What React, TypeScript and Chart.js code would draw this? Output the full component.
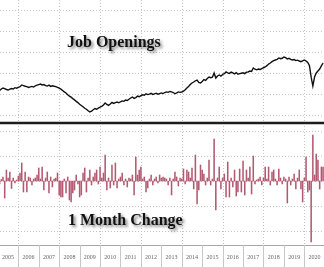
import React, { useEffect, useRef } from "react";
import { Chart, registerables } from "chart.js";

Chart.register(...registerables);

// ---- data (monthly, starting January 2005) ----
const START_YEAR = 2005;

const yearLabels = [
  "2005", "2006", "2007", "2008", "2009", "2010", "2011", "2012",
  "2013", "2014", "2015", "2016", "2017", "2018", "2019", "2020",
];

// Job openings (millions)
const openings2005 = [4.29, 4.33, 4.48, 4.57, 4.52, 4.43, 4.38, 4.46, 4.52, 4.48, 4.6, 4.55];
const openings2006 = [4.64, 4.7, 4.86, 4.8, 4.74, 4.7, 4.62, 4.68, 4.72, 4.66, 4.78, 4.84];
const openings2007 = [4.9, 4.95, 4.86, 4.9, 4.8, 4.76, 4.84, 4.72, 4.78, 4.74, 4.7, 4.62];
const openings2008 = [4.55, 4.46, 4.34, 4.2, 4.1, 3.92, 3.8, 3.7, 3.56, 3.44, 3.3, 3.18];
const openings2009 = [3.02, 2.9, 2.78, 2.64, 2.55, 2.4, 2.29, 2.36, 2.5, 2.62, 2.55, 2.66];
const openings2010 = [2.76, 2.82, 2.95, 3.14, 3.0, 2.92, 3.05, 3.2, 3.1, 3.18, 3.24, 3.16];
const openings2011 = [3.26, 3.34, 3.3, 3.43, 3.38, 3.5, 3.62, 3.71, 3.58, 3.66, 3.8, 3.74];
const openings2012 = [3.85, 3.92, 3.88, 4.02, 3.94, 3.98, 4.06, 3.96, 4.02, 4.08, 3.98, 4.04];
const openings2013 = [4.1, 4.04, 4.14, 4.2, 4.16, 4.24, 4.2, 4.14, 4.02, 4.1, 4.2, 4.16];
const openings2014 = [4.19, 4.26, 4.4, 4.57, 4.72, 4.9, 5.05, 5.14, 5.26, 5.33, 5.1, 5.05];
const openings2015 = [5.2, 5.38, 5.3, 5.48, 5.62, 5.55, 5.6, 6.0, 5.52, 5.72, 5.81, 5.7];
const openings2016 = [5.86, 5.94, 6.1, 6.02, 5.96, 6.08, 6.0, 5.92, 6.04, 5.88, 5.94, 5.98];
const openings2017 = [6.02, 5.94, 6.08, 6.1, 6.19, 6.14, 6.48, 6.36, 6.3, 6.38, 6.34, 6.42];
const openings2018 = [6.5, 6.57, 6.7, 6.85, 6.95, 7.08, 7.18, 7.24, 7.3, 7.43, 7.36, 7.4];
const openings2019 = [7.52, 7.46, 7.33, 7.4, 7.3, 7.24, 7.28, 7.18, 7.22, 7.14, 7.08, 7.16];
const openings2020 = [7.24, 7.14, 7.0, 6.7, 5.6, 4.76, 5.62, 6.0, 6.19, 6.38, 6.67, 6.95];

// 1 month change (thousands)
const change2005 = [40, -60, 30, 80, -340, 220, 60, 180, -150, 60, -40, 20];
const change2006 = [100, 160, 360, -220, 180, -220, 80, 60, -80, 40, 60, 120];
const change2007 = [260, 40, 280, -180, 60, 180, -240, 80, -120, 40, 60, 160];
const change2008 = [-280, -320, -320, 40, -240, 80, -380, -420, -240, -180, 120, -60];
const change2009 = [-320, -280, 160, 260, -220, 60, 220, -80, 80, 160, 220, -60];
const change2010 = [280, 60, 160, 520, -180, 60, -140, 320, -80, 360, -140, 40];
const change2011 = [80, 160, -80, 40, -120, 60, 40, 120, -280, 480, 120, 220];
const change2012 = [280, 40, 80, -220, -140, 40, 120, -80, 40, 80, -40, 120];
const change2013 = [60, 80, 60, 40, -80, 60, -280, 40, 180, 80, -100, 60];
const change2014 = [40, 240, -60, 220, 180, 60, 260, -160, 520, -460, -180, 320];
const change2015 = [220, 140, -80, 60, 420, -80, 40, 840, -580, 60, 280, -160];
const change2016 = [60, 140, -320, 380, -320, 60, -120, 220, -300, -220, 240, -220];
const change2017 = [400, -280, 220, 60, 280, -260, 500, -60, 20, 40, 80, -80];
const change2018 = [60, 280, 40, 280, -80, 180, 220, 40, -80, 240, 60, -60];
const change2019 = [80, 40, -440, 80, -80, 40, 140, -160, 60, 220, -160, -420];
const change2020 = [60, 480, -220, -180, -1220, 920, 120, 540, 420, -160, 280, 280];

const openings = [
  ...openings2005, ...openings2006, ...openings2007, ...openings2008,
  ...openings2009, ...openings2010, ...openings2011, ...openings2012,
  ...openings2013, ...openings2014, ...openings2015, ...openings2016,
  ...openings2017, ...openings2018, ...openings2019, ...openings2020,
];
const monthlyChange = [
  ...change2005, ...change2006, ...change2007, ...change2008,
  ...change2009, ...change2010, ...change2011, ...change2012,
  ...change2013, ...change2014, ...change2015, ...change2016,
  ...change2017, ...change2018, ...change2019, ...change2020,
];

const topGridValues = [2, 4, 6, 8, 10, 12];
const bottomGridValues = [-1000, -500, 0, 500, 1000];
const titleTop = "Job Openings";
const titleBottom = "1 Month Change";

export default function App() {
  const ref = useRef<HTMLCanvasElement | null>(null);

  useEffect(() => {
    document.body.style.margin = "0";
    const canvas = ref.current;
    if (!canvas) return;

    const toPoints = (arr: number[]) =>
      arr.map((v, i) => ({ x: START_YEAR + i / 12, y: v }));

    const decor = {
      id: "decor",
      beforeDatasetsDraw(chart: any) {
        const { ctx, chartArea: a, scales } = chart;
        const xs = scales.x;
        const yT = scales.yTop;
        const yB = scales.yBot;
        ctx.save();
        ctx.strokeStyle = "#c4c4c4";
        ctx.lineWidth = 1;
        ctx.setLineDash([1, 2]);
        const hline = (y: number) => {
          const py = Math.round(y) + 0.5;
          ctx.beginPath();
          ctx.moveTo(a.left, py);
          ctx.lineTo(a.right, py);
          ctx.stroke();
        };
        topGridValues.forEach((v) => hline(yT.getPixelForValue(v)));
        bottomGridValues.forEach((v) => hline(yB.getPixelForValue(v)));
        for (let i = 1; i < yearLabels.length; i += 2) {
          const yr = Number(yearLabels[i]);
          const px = Math.round(xs.getPixelForValue(yr)) + 0.5;
          ctx.beginPath();
          ctx.moveTo(px, a.top);
          ctx.lineTo(px, a.bottom);
          ctx.stroke();
        }
        ctx.restore();
      },
      afterDatasetsDraw(chart: any) {
        const { ctx, chartArea: a, scales } = chart;
        const xs = scales.x;
        ctx.save();
        // panel divider
        ctx.strokeStyle = "#1c1c1c";
        ctx.lineWidth = 2.5;
        ctx.beginPath();
        ctx.moveTo(0, 123);
        ctx.lineTo(chart.width, 123);
        ctx.stroke();
        // x axis line
        ctx.strokeStyle = "#a8a8a8";
        ctx.lineWidth = 1;
        ctx.beginPath();
        ctx.moveTo(0, a.bottom + 0.5);
        ctx.lineTo(chart.width, a.bottom + 0.5);
        ctx.stroke();
        // year separators and labels
        ctx.strokeStyle = "#c8c8c8";
        ctx.fillStyle = "#666";
        ctx.font = "6px 'Liberation Serif'";
        ctx.textAlign = "center";
        ctx.textBaseline = "middle";
        yearLabels.forEach((lab) => {
          const yr = Number(lab);
          const x0 = xs.getPixelForValue(yr);
          const x1 = xs.getPixelForValue(yr + 1);
          const px = Math.round(x0) + 0.5;
          ctx.beginPath();
          ctx.moveTo(px, a.bottom);
          ctx.lineTo(px, chart.height);
          ctx.stroke();
          ctx.fillText(lab, (x0 + x1) / 2, a.bottom + 12);
        });
        // titles with drop shadow
        ctx.font = "bold 16px 'Liberation Serif'";
        ctx.textAlign = "left";
        ctx.textBaseline = "alphabetic";
        ctx.fillStyle = "#111";
        ctx.shadowColor = "rgba(0,0,0,0.5)";
        ctx.shadowBlur = 3;
        ctx.shadowOffsetX = 2;
        ctx.shadowOffsetY = 2;
        ctx.fillText(titleTop, 67, 47);
        ctx.fillText(titleBottom, 68, 225);
        ctx.restore();
      },
    };

    const chart = new Chart(canvas, {
      type: "bar",
      data: {
        datasets: [
          {
            type: "line",
            label: titleTop,
            data: toPoints(openings),
            yAxisID: "yTop",
            borderColor: "#111",
            borderWidth: 1.4,
            pointRadius: 0,
            tension: 0,
          } as any,
          {
            type: "bar",
            label: titleBottom,
            data: toPoints(monthlyChange),
            yAxisID: "yBot",
            backgroundColor: "#b35a71",
            barThickness: 0.9,
          } as any,
        ],
      },
      options: {
        responsive: false,
        animation: false,
        layout: { padding: { left: 0, right: 0, top: 0, bottom: 22 } },
        plugins: {
          legend: { display: false },
          tooltip: { enabled: false },
          title: { display: false },
        },
        scales: {
          x: {
            type: "linear",
            display: false,
            offset: false,
            bounds: "data",
            grid: { offset: false },
            min: 2005.1028,
            max: 2020.962,
          },
          yTop: {
            type: "linear",
            display: false,
            min: -10.381,
            max: 12.952,
          },
          yBot: {
            type: "linear",
            display: false,
            min: -1280,
            max: 3620,
          },
        },
      },
      plugins: [decor],
    });

    return () => chart.destroy();
  }, []);

  return (
    <div style={{ position: "fixed", left: 0, top: 0, width: 324, height: 267, background: "#fff" }}>
      <canvas ref={ref} width={324} height={267} style={{ display: "block" }} />
    </div>
  );
}
